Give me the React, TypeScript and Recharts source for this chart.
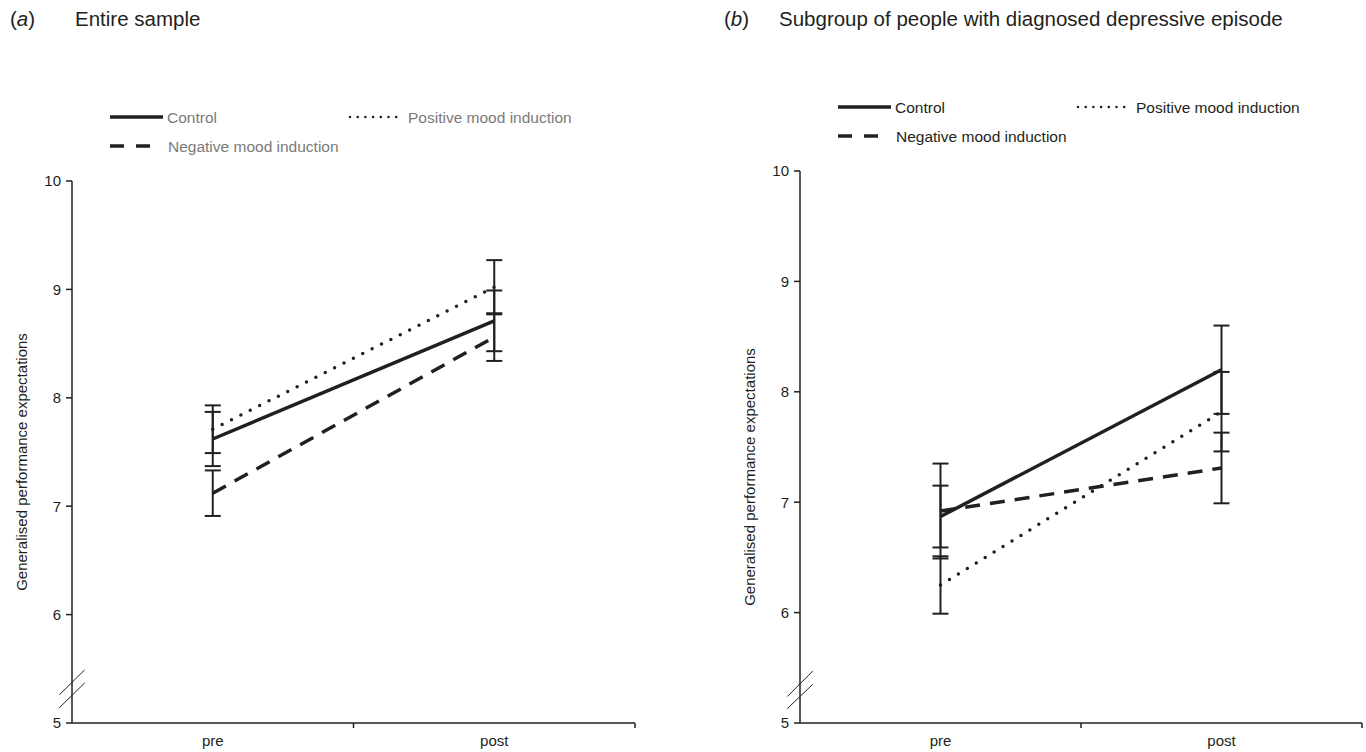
import React from "react";
import { LineChart, Line, XAxis, YAxis, ErrorBar, ReferenceLine, Label } from "recharts";

// ---- data ----
const timepoints = ["pre", "post"];
const timeX = [0, 1];
const yTicks = [5, 6, 7, 8, 9, 10];

// Panel (a): entire sample
const aControl = [7.62, 8.71];
const aControlErr = [0.25, 0.28];
const aPositive = [7.71, 9.02];
const aPositiveErr = [0.22, 0.25];
const aNegative = [7.12, 8.56];
const aNegativeErr = [0.21, 0.22];

// Panel (b): subgroup with diagnosed depressive episode
const bControl = [6.87, 8.2];
const bControlErr = [0.28, 0.4];
const bPositive = [6.25, 7.82];
const bPositiveErr = [0.26, 0.36];
const bNegative = [6.92, 7.31];
const bNegativeErr = [0.43, 0.32];

const INK = "#231f20";
const FONT = "'Liberation Sans', Arial, sans-serif";
const Y_LABEL = "Generalised performance expectations";

function buildRows(c: number[], ce: number[], p: number[], pe: number[], n: number[], ne: number[]) {
  return timeX.map((t, i) => ({
    t,
    label: timepoints[i],
    control: c[i],
    controlErr: ce[i],
    positive: p[i],
    positiveErr: pe[i],
    negative: n[i],
    negativeErr: ne[i],
  }));
}

const XTick = (props: any) => {
  const { x, y, payload } = props;
  const v = payload.value;
  if (Number.isInteger(v)) {
    const idx = timeX.indexOf(v);
    return (
      <text x={x} y={y + 23} textAnchor="middle" fontSize={15} fill={INK} fontFamily={FONT}>
        {timepoints[idx]}
      </text>
    );
  }
  return <line x1={x} y1={y} x2={x} y2={y + 5} stroke={INK} strokeWidth={1.5} />;
};

type PanelProps = {
  rows: any[];
  width: number;
  height: number;
  margin: { top: number; right: number; bottom: number; left: number };
  yAxisWidth: number;
  labelX: number;
  labelShift: number;
  breaks: [number, number][];
};

function Panel({ rows, width, height, margin, yAxisWidth, labelX, labelShift, breaks }: PanelProps) {
  const renderLabel = (p: any) => {
    const vb = p.viewBox || {};
    const cx = (vb.x || 0) + labelX;
    const cy = (vb.y || 0) + (vb.height || 0) / 2 + labelShift;
    return (
      <text
        x={cx}
        y={cy}
        transform={`rotate(-90 ${cx} ${cy})`}
        textAnchor="middle"
        dominantBaseline="central"
        fontSize={15}
        fill={INK}
        fontFamily={FONT}
      >
        {Y_LABEL}
      </text>
    );
  };
  return (
    <LineChart width={width} height={height} data={rows} margin={margin}>
      <XAxis
        dataKey="t"
        type="number"
        domain={[-0.5, 1.5]}
        ticks={[0, 0.5, 1, 1.5]}
        tick={<XTick />}
        tickLine={false}
        tickSize={0}
        tickMargin={0}
        height={29}
        axisLine={{ stroke: INK, strokeWidth: 1.5 }}
        interval={0}
        allowDataOverflow
      />
      <YAxis
        type="number"
        domain={[5, 10]}
        ticks={yTicks}
        width={yAxisWidth}
        tickSize={6}
        tickMargin={5}
        axisLine={{ stroke: INK, strokeWidth: 1.5 }}
        tickLine={{ stroke: INK, strokeWidth: 1.5 }}
        tick={{ fill: INK, fontSize: 15, fontFamily: FONT }}
        allowDataOverflow
      >
        <Label content={renderLabel} />
      </YAxis>
      {breaks.map((b, i) => (
        <ReferenceLine
          key={i}
          ifOverflow="visible"
          segment={[
            { x: -0.545, y: b[0] },
            { x: -0.455, y: b[1] },
          ]}
          stroke={INK}
          strokeWidth={1}
        />
      ))}
      <Line
        dataKey="control"
        stroke={INK}
        strokeWidth={3.5}
        dot={false}
        activeDot={false}
        isAnimationActive={false}
      >
        <ErrorBar dataKey="controlErr" width={8} stroke={INK} strokeWidth={2} direction="y" />
      </Line>
      <Line
        dataKey="positive"
        stroke={INK}
        strokeWidth={3.5}
        strokeDasharray="0 10.5"
        strokeLinecap="round"
        dot={false}
        activeDot={false}
        isAnimationActive={false}
      >
        <ErrorBar dataKey="positiveErr" width={8} stroke={INK} strokeWidth={2} direction="y" />
      </Line>
      <Line
        dataKey="negative"
        stroke={INK}
        strokeWidth={3.5}
        strokeDasharray="15 10"
        dot={false}
        activeDot={false}
        isAnimationActive={false}
      >
        <ErrorBar dataKey="negativeErr" width={8} stroke={INK} strokeWidth={2} direction="y" />
      </Line>
    </LineChart>
  );
}

function LegendBlock({ left, top, color }: { left: number; top: number; color: string }) {
  const txt = { fontFamily: FONT, fontSize: 15.5, fill: color } as any;
  return (
    <svg style={{ position: "absolute", left, top }} width={520} height={50}>
      <line x1={0} y1={8} x2={53} y2={8} stroke={INK} strokeWidth={3.5} />
      <text x={57} y={13.5} {...txt}>Control</text>
      <line x1={240} y1={8} x2={293} y2={8} stroke={INK} strokeWidth={2.6} strokeDasharray="0 7.7" strokeLinecap="round" />
      <text x={298} y={13.5} {...txt}>Positive mood induction</text>
      <line x1={0} y1={37} x2={40} y2={37} stroke={INK} strokeWidth={3.5} strokeDasharray="14 12" />
      <text x={58} y={42.5} {...txt}>Negative mood induction</text>
    </svg>
  );
}

export default function App() {
  const rowsA = buildRows(aControl, aControlErr, aPositive, aPositiveErr, aNegative, aNegativeErr);
  const rowsB = buildRows(bControl, bControlErr, bPositive, bPositiveErr, bNegative, bNegativeErr);
  const titleStyle: React.CSSProperties = { position: "absolute", top: 7, fontSize: 20.5, color: INK, whiteSpace: "nowrap" };
  return (
    <div style={{ position: "absolute", left: 0, top: 0, width: 1366, height: 752, background: "#fff", fontFamily: FONT }}>
      <div style={{ position: "absolute", left: 0, top: 0 }}>
        <Panel
          rows={rowsA}
          width={683}
          height={752}
          margin={{ top: 181, right: 48, bottom: 0, left: 0 }}
          yAxisWidth={72}
          labelX={21}
          labelShift={10}
          breaks={[
            [5.26, 5.49],
            [5.14, 5.37],
          ]}
        />
      </div>
      <div style={{ position: "absolute", left: 700, top: 0 }}>
        <Panel
          rows={rowsB}
          width={666}
          height={752}
          margin={{ top: 171, right: 4, bottom: 0, left: 0 }}
          yAxisWidth={100}
          labelX={49}
          labelShift={30}
          breaks={[
            [5.24, 5.47],
            [5.13, 5.35],
          ]}
        />
      </div>
      <div style={{ ...titleStyle, left: 10 }}>
        (<i>a</i>)
      </div>
      <div style={{ ...titleStyle, left: 75 }}>Entire sample</div>
      <div style={{ ...titleStyle, left: 724 }}>
        (<i>b</i>)
      </div>
      <div style={{ ...titleStyle, left: 779 }}>Subgroup of people with diagnosed depressive episode</div>
      <LegendBlock left={110} top={109} color="#7a7a7a" />
      <LegendBlock left={838} top={99} color={INK} />
    </div>
  );
}
